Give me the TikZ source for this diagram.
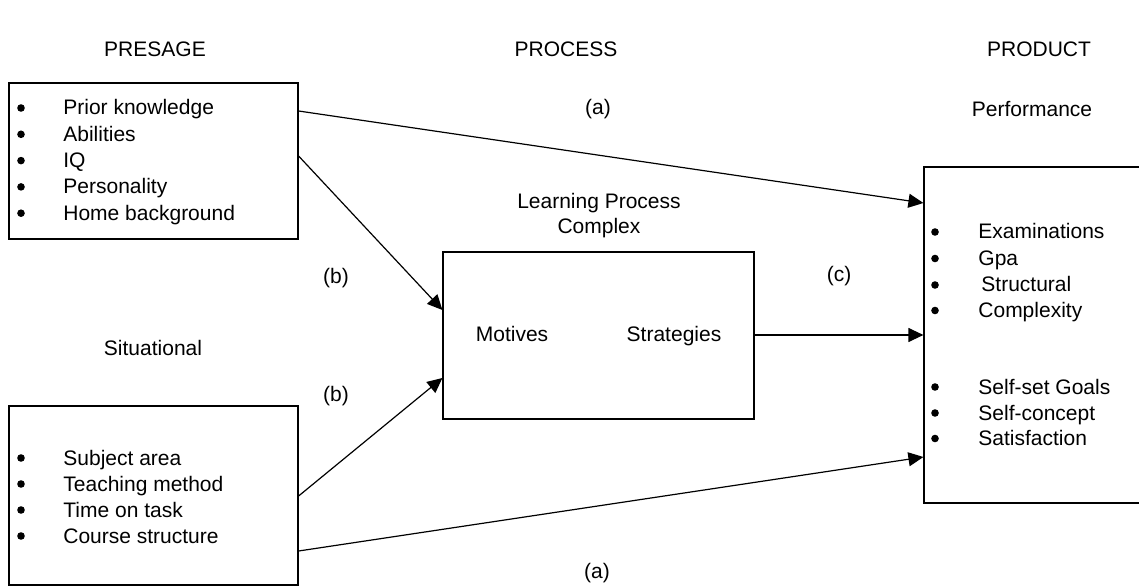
\documentclass[tikz,border=0pt]{standalone}
\usepackage{fontspec}
\setmainfont{Liberation Sans}
\usetikzlibrary{arrows.meta}
\begin{document}
\begin{tikzpicture}[x=0.5pt,y=-0.5pt,
  every node/.style={font=\fontsize{10.5}{12.6}\selectfont, inner sep=0pt},
  box/.style={draw, line width=0.6pt},
  arr/.style={-{Triangle[length=7.5pt,width=7pt]}, line width=0.6pt},
  item/.style={anchor=base west},
  dot/.style={circle, fill, inner sep=0pt, minimum size=3.8pt, yshift=3.5pt}]
\useasboundingbox (0,0) rectangle (1139,587);

% headers
\node (hpre) at (155,49) {PRESAGE};
\node (hpro) at (566,49) {PROCESS};
\node (hprd) at (1039,49) {PRODUCT};

% boxes
\node[box, minimum width=144.5pt, minimum height=78pt] (b1) at (153.5,161) {};
\node[box, minimum width=144.5pt, minimum height=89.5pt] (b2) at (153.5,495.5) {};
\node[box, minimum width=155.5pt, minimum height=83.5pt] (bm) at (598.5,335.5) {};
\node[box, minimum width=109pt, minimum height=168pt] (br) at (1033,335) {};

% presage list
\foreach \t [count=\i] in {Prior knowledge, Abilities, IQ, Personality, Home background} {
  \node[dot] (d1\i) at (21,{115+26.3*(\i-1)}) {};
  \node[item] (t1\i) at (63,{115+26.3*(\i-1)}) {\t};
}
% situational list
\foreach \t [count=\i] in {Subject area, Teaching method, Time on task, Course structure} {
  \node[dot] (d2\i) at (21,{465+26*(\i-1)}) {};
  \node[item] (t2\i) at (63,{465+26*(\i-1)}) {\t};
}
% product list
\node[dot] (d31) at (935,239) {};
\node[item] (t31) at (978,239) {Examinations};
\node[dot] (d32) at (935,265.5) {};
\node[item] (t32) at (978,265.5) {Gpa};
\node[dot] (d33) at (935,292) {};
\node[item] (t33) at (981,292) {Structural};
\node[dot] (d34) at (935,317.5) {};
\node[item] (t34) at (978,317.5) {Complexity};
\node[dot] (d35) at (935,394) {};
\node[item] (t35) at (978,394) {Self-set Goals};
\node[dot] (d36) at (935,420) {};
\node[item] (t36) at (978,420) {Self-concept};
\node[dot] (d37) at (935,445.5) {};
\node[item] (t37) at (978,445.5) {Satisfaction};

% labels
\node (la1) at (598,109) {(a)};
\node (lperf) at (1032,109) {Performance};
\node (llp) at (599,203) {Learning Process};
\node (lcx) at (599,228) {Complex};
\node (lb1) at (336,278) {(b)};
\node (lb2) at (336,396) {(b)};
\node (lc) at (839,276) {(c)};
\node (lsit) at (153,348) {Situational};
\node[anchor=base] (lmot) at (512,342) {Motives};
\node[anchor=base] (lstr) at (674,342) {Strategies};
\node (la2) at (597,573) {(a)};

% connectors
\draw[arr] (b1.east |- 0,111) -- (br.west |- 0,203);
\draw[arr] (b1.east |- 0,156) -- (bm.west |- 0,310);
\draw[arr] (b2.east |- 0,496) -- (bm.west |- 0,378);
\draw[arr] (bm.east |- 0,335) -- (br.west |- 0,335);
\draw[arr] (b2.east |- 0,551) -- (br.west |- 0,457);
\end{tikzpicture}
\end{document}
